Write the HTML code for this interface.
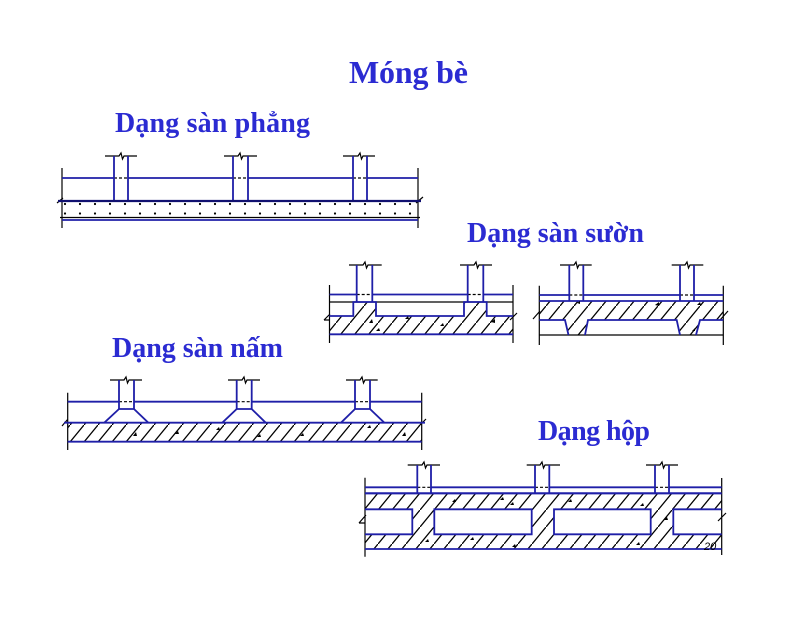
<!DOCTYPE html>
<html><head><meta charset="utf-8">
<style>
html,body{margin:0;padding:0;background:#fff;}
svg{display:block;}
text.t{font-family:"Liberation Serif","DejaVu Serif",serif;font-weight:bold;fill:#2b2bd2;}
</style></head><body>
<svg width="800" height="618" viewBox="0 0 800 618" xmlns="http://www.w3.org/2000/svg">
<defs>
<pattern id="h" width="14" height="17" patternUnits="userSpaceOnUse"><path d="M-1 18.2 L15 -1.2" stroke="#000" stroke-width="1.3"/></pattern>
</defs>
<rect width="800" height="618" fill="#fff"/>

<!-- Titles -->
<text class="t" x="349" y="83" font-size="32" textLength="119">Móng bè</text>
<text class="t" x="115" y="132" font-size="28" textLength="195">Dạng sàn phẳng</text>
<text class="t" x="467" y="242" font-size="28" textLength="177">Dạng sàn sườn</text>
<text class="t" x="112" y="357" font-size="28" textLength="171">Dạng sàn nấm</text>
<text class="t" x="538" y="440" font-size="28" textLength="112">Dạng hộp</text>

<!-- ============ Diagram 1: flat slab ============ -->
<g fill="none" stroke="#000" stroke-width="1.2">
  <path d="M62 168 V228 M57 203 L63 198"/>
  <path d="M418 168 V228 M416 203 L423 197"/>
  <!-- column caps -->
  <path d="M105 156 H119 L121 153 L122.5 159 L124 156 H137"/>
  <path d="M224 156 H238 L240 153 L241.5 159 L243 156 H257"/>
  <path d="M343 156 H358 L360 153 L361.5 159 L363 156 H375"/>
  <path d="M114 178 H128 M233 178 H248 M353 178 H367" stroke-dasharray="3 2"/>
  <path d="M60 217.5 H420"/>
</g>
<g fill="none" stroke="#1f1fa8" stroke-width="1.8">
  <path d="M62 178 H114 M128 178 H233 M248 178 H353 M367 178 H418"/>
  <path d="M114 156 V201 M128 156 V201 M233 156 V201 M248 156 V201 M353 156 V201 M367 156 V201"/>
  <path d="M58 201 H421" stroke="#101070" stroke-width="2.2"/>
  <path d="M62 220 H418"/>
</g>
<g fill="#000">
  <circle cx="65" cy="204" r="1.1"/><circle cx="80" cy="204" r="1.1"/><circle cx="95" cy="204" r="1.1"/><circle cx="110" cy="204" r="1.1"/><circle cx="125" cy="204" r="1.1"/><circle cx="140" cy="204" r="1.1"/><circle cx="155" cy="204" r="1.1"/><circle cx="170" cy="204" r="1.1"/><circle cx="185" cy="204" r="1.1"/><circle cx="200" cy="204" r="1.1"/><circle cx="215" cy="204" r="1.1"/><circle cx="230" cy="204" r="1.1"/><circle cx="245" cy="204" r="1.1"/><circle cx="260" cy="204" r="1.1"/><circle cx="275" cy="204" r="1.1"/><circle cx="290" cy="204" r="1.1"/><circle cx="305" cy="204" r="1.1"/><circle cx="320" cy="204" r="1.1"/><circle cx="335" cy="204" r="1.1"/><circle cx="350" cy="204" r="1.1"/><circle cx="365" cy="204" r="1.1"/><circle cx="380" cy="204" r="1.1"/><circle cx="395" cy="204" r="1.1"/><circle cx="410" cy="204" r="1.1"/>
  <circle cx="65" cy="213.5" r="1.1"/><circle cx="80" cy="213.5" r="1.1"/><circle cx="95" cy="213.5" r="1.1"/><circle cx="110" cy="213.5" r="1.1"/><circle cx="125" cy="213.5" r="1.1"/><circle cx="140" cy="213.5" r="1.1"/><circle cx="155" cy="213.5" r="1.1"/><circle cx="170" cy="213.5" r="1.1"/><circle cx="185" cy="213.5" r="1.1"/><circle cx="200" cy="213.5" r="1.1"/><circle cx="215" cy="213.5" r="1.1"/><circle cx="230" cy="213.5" r="1.1"/><circle cx="245" cy="213.5" r="1.1"/><circle cx="260" cy="213.5" r="1.1"/><circle cx="275" cy="213.5" r="1.1"/><circle cx="290" cy="213.5" r="1.1"/><circle cx="305" cy="213.5" r="1.1"/><circle cx="320" cy="213.5" r="1.1"/><circle cx="335" cy="213.5" r="1.1"/><circle cx="350" cy="213.5" r="1.1"/><circle cx="365" cy="213.5" r="1.1"/><circle cx="380" cy="213.5" r="1.1"/><circle cx="395" cy="213.5" r="1.1"/><circle cx="410" cy="213.5" r="1.1"/>
</g>

<!-- ============ Diagram 2a: ribbed (ribs up) ============ -->
<path d="M329.5 316 H353.3 V302 H376 V316 H464 V302 H486.7 V316 H513 V334.3 H329.5 Z" fill="url(#h)"/>
<g fill="none" stroke="#000" stroke-width="1.2">
  <path d="M329.5 285 V343 M324 320 L330 314 M324 320 H329.5"/>
  <path d="M513 285 V343 M510 320 L517 313"/>
  <path d="M349 265 H363 L365 262 L366.5 268 L368 265 H381.7"/>
  <path d="M460 265 H474 L476 262 L477.5 268 L479 265 H492"/>
  <path d="M356.7 294.5 H372.3 M467.7 294.5 H483.3" stroke-dasharray="3 2"/>
  <path d="M329.5 302 H513"/>
</g>
<g fill="none" stroke="#1f1fa8" stroke-width="1.8">
  <path d="M329.5 294.5 H356.7 M372.3 294.5 H467.7 M483.3 294.5 H513"/>
  <path d="M356.7 265 V302 M372.3 265 V302 M467.7 265 V302 M483.3 265 V302"/>
  <path d="M329.5 316 H353.3 V302 H376 V316 H464 V302 H486.7 V316 H513"/>
  <path d="M329.5 334.3 H513"/>
</g>

<!-- ============ Diagram 2b: ribbed (ribs down) ============ -->
<path d="M539.3 301 H723.3 V320 H700 L696 335 H680 L676.7 320 H588 L585 335 H568.5 L565 320 H539.3 Z" fill="url(#h)"/>
<g fill="none" stroke="#000" stroke-width="1.2">
  <path d="M539.3 285.7 V345 M533 319 L540 311"/>
  <path d="M723.3 285.7 V345 M720 320 L728 311"/>
  <path d="M560 265 H574 L576 262 L577.5 268 L579 265 H591.7"/>
  <path d="M671.7 265 H685 L687 262 L688.5 268 L690 265 H703.3"/>
  <path d="M569.3 295 H583.3 M680 295 H694" stroke-dasharray="3 2"/>
  <path d="M539.3 335 H723.3"/>
</g>
<g fill="none" stroke="#1f1fa8" stroke-width="1.8">
  <path d="M539.3 295 H569.3 M583.3 295 H680 M694 295 H723.3"/>
  <path d="M539.3 301 H723.3"/>
  <path d="M569.3 265 V301 M583.3 265 V301 M680 265 V301 M694 265 V301"/>
  <path d="M539.3 320 H565 L568.5 335 M585 335 L588 320 H676.7 L680 335 M696 335 L700 320 H723.3"/>
</g>

<!-- ============ Diagram 3: mushroom slab ============ -->
<rect x="67.7" y="422.7" width="354" height="19" fill="url(#h)"/>
<g fill="none" stroke="#000" stroke-width="1.2">
  <path d="M67.7 392.7 V450 M62 426 L68 419"/>
  <path d="M421.7 392.7 V450 M419 426 L426 419"/>
  <path d="M110 380 H124 L126 377 L127.5 383 L129 380 H142"/>
  <path d="M228 380 H242 L244 377 L245.5 383 L247 380 H260"/>
  <path d="M346 380 H360 L362 377 L363.5 383 L365 380 H377.7"/>
  <path d="M119 401.7 H134 M236.7 401.7 H251.7 M355 401.7 H370" stroke-dasharray="3 2"/>
</g>
<g fill="none" stroke="#1f1fa8" stroke-width="1.8">
  <path d="M67.7 401.7 H119 M134 401.7 H236.7 M251.7 401.7 H355 M370 401.7 H421.7"/>
  <path d="M119 380 V409 M134 380 V409 M236.7 380 V409 M251.7 380 V409 M355 380 V409 M370 380 V409"/>
  <path d="M104.3 422.7 L119 409 H134 L148.3 422.7"/>
  <path d="M222.3 422.7 L236.7 409 H251.7 L265.7 422.7"/>
  <path d="M341 422.7 L355 409 H370 L384.3 422.7"/>
  <path d="M64 422.7 H425"/>
  <path d="M67.7 441.7 H421.7"/>
</g>

<!-- ============ Diagram 4: box ============ -->
<path fill="url(#h)" fill-rule="evenodd" d="M365 493.3 H721.7 V549 H365 Z M365 509.3 H412.3 V534.3 H365 Z M434.3 509.3 H531.7 V534.3 H434.3 Z M554 509.3 H650.7 V534.3 H554 Z M673.3 509.3 H721.7 V534.3 H673.3 Z"/>
<g fill="none" stroke="#000" stroke-width="1.2">
  <path d="M365 477.7 V556.7 M359 523 L366 515 M359 523 H365"/>
  <path d="M721.7 478 V555 M718 521 L726 513"/>
  <path d="M407.7 465 H422 L424 462 L425.5 468 L427 465 H440"/>
  <path d="M526.7 465 H540 L542 462 L543.5 468 L545 465 H560"/>
  <path d="M646 465 H660 L662 462 L663.5 468 L665 465 H678"/>
  <path d="M417.3 487.3 H431 M535 487.3 H549.3 M655 487.3 H669" stroke-dasharray="3 2"/>
</g>
<g fill="none" stroke="#1f1fa8" stroke-width="1.8">
  <path d="M365 487.3 H417.3 M431 487.3 H535 M549.3 487.3 H655 M669 487.3 H721.7"/>
  <path d="M417.3 465 V493.3 M431 465 V493.3 M535 465 V493.3 M549.3 465 V493.3 M655 465 V493.3 M669 465 V493.3"/>
  <path d="M365 493.3 H721.7" stroke-width="2.2"/>
  <path d="M365 509.3 H412.3 V534.3 H365"/>
  <path d="M434.3 509.3 H531.7 V534.3 H434.3 Z"/>
  <path d="M554 509.3 H650.7 V534.3 H554 Z"/>
  <path d="M721.7 509.3 H673.3 V534.3 H721.7"/>
  <path d="M365 549 H721.7"/>
</g>
<text x="704" y="550" font-family="Liberation Sans, sans-serif" font-size="11" font-style="italic" fill="#000">20</text>

<!-- aggregate marks -->
<g fill="#000">
  <path d="M369 323 l3 -4 l1 4 z"/><path d="M405 319 l3 -3 l1 3 z"/><path d="M440 326 l3 -3 l1 3 z"/><path d="M491 322 l4 -3 l0 4 z"/><path d="M376 331 l3 -3 l1 3 z"/>
  <path d="M577 303 l3 -2 l0 3 z"/><path d="M655 305 l4 -3 l0 4 z"/><path d="M697 305 l3 -3 l1 3 z"/><path d="M692 331 l3 -3 l0 3 z"/>
  <path d="M133 436 l3 -4 l1 4 z"/><path d="M175 434 l3 -3 l1 3 z"/><path d="M216 430 l3 -3 l1 3 z"/><path d="M257 437 l3 -3 l1 3 z"/><path d="M300 436 l3 -3 l1 3 z"/><path d="M367 428 l3 -3 l1 3 z"/><path d="M402 436 l3 -4 l1 4 z"/>
  <path d="M452 502 l3 -3 l1 3 z"/><path d="M500 500 l3 -3 l1 3 z"/><path d="M510 505 l3 -3 l1 3 z"/><path d="M568 502 l3 -3 l1 3 z"/><path d="M640 506 l3 -3 l1 3 z"/><path d="M664 520 l3 -3 l1 3 z"/><path d="M425 542 l3 -3 l1 3 z"/><path d="M470 540 l3 -3 l1 3 z"/><path d="M512 547 l3 -3 l1 3 z"/><path d="M636 545 l3 -3 l1 3 z"/>
</g>
</svg>
</body></html>
